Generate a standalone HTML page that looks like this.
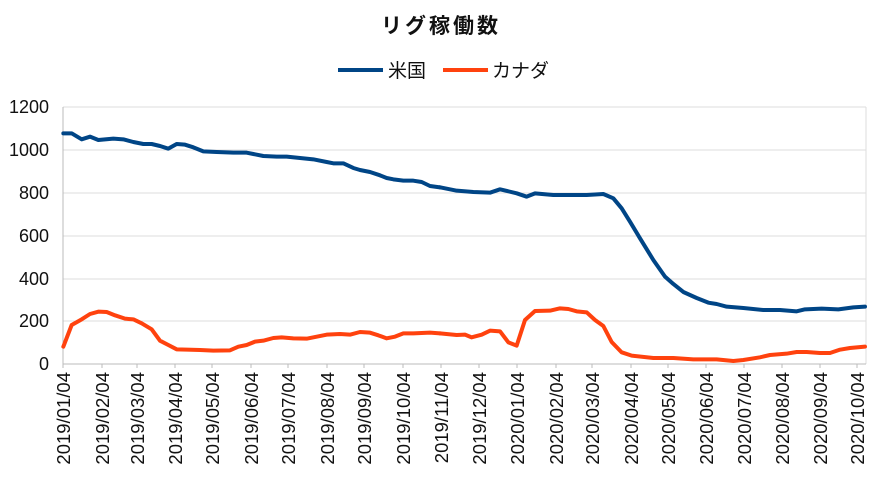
<!DOCTYPE html>
<html><head><meta charset="utf-8"><style>
body{margin:0;background:#fff;}
svg{display:block;font-family:"Liberation Sans","Noto Sans CJK JP",sans-serif;}
</style></head><body>
<svg width="889" height="478" viewBox="0 0 889 478" xmlns="http://www.w3.org/2000/svg">
<text x="441" y="33" font-size="21" font-weight="bold" text-anchor="middle" letter-spacing="3" fill="#111">リグ稼働数</text>
<line x1="338" y1="70" x2="383" y2="70" stroke="#004586" stroke-width="4"/>
<text x="388" y="77" font-size="19" fill="#111">米国</text>
<line x1="443" y1="70" x2="488" y2="70" stroke="#ff420e" stroke-width="4"/>
<text x="492" y="77" font-size="19" fill="#111">カナダ</text>
<g stroke="#ddd" stroke-width="1">
<line x1="63" y1="107" x2="866" y2="107"/><line x1="63" y1="150" x2="866" y2="150"/>
<line x1="63" y1="193" x2="866" y2="193"/><line x1="63" y1="236" x2="866" y2="236"/>
<line x1="63" y1="279" x2="866" y2="279"/><line x1="63" y1="321" x2="866" y2="321"/>
<line x1="866" y1="107" x2="866" y2="364"/>
</g>
<g stroke="#bbb" stroke-width="1">
<line x1="63" y1="107" x2="63" y2="368"/><line x1="63" y1="364" x2="866" y2="364"/>
<line x1="102" y1="364" x2="102" y2="368"/><line x1="137" y1="364" x2="137" y2="368"/>
<line x1="175" y1="364" x2="175" y2="368"/><line x1="212" y1="364" x2="212" y2="368"/>
<line x1="251" y1="364" x2="251" y2="368"/><line x1="288" y1="364" x2="288" y2="368"/>
<line x1="327" y1="364" x2="327" y2="368"/><line x1="364" y1="364" x2="364" y2="368"/>
<line x1="403" y1="364" x2="403" y2="368"/><line x1="441" y1="364" x2="441" y2="368"/>
<line x1="479" y1="364" x2="479" y2="368"/><line x1="517" y1="364" x2="517" y2="368"/>
<line x1="556" y1="364" x2="556" y2="368"/><line x1="592" y1="364" x2="592" y2="368"/>
<line x1="631" y1="364" x2="631" y2="368"/><line x1="668" y1="364" x2="668" y2="368"/>
<line x1="706" y1="364" x2="706" y2="368"/><line x1="744" y1="364" x2="744" y2="368"/>
<line x1="782" y1="364" x2="782" y2="368"/><line x1="820" y1="364" x2="820" y2="368"/>
<line x1="857" y1="364" x2="857" y2="368"/>
</g>
<g font-size="18" fill="#111" text-anchor="end">
<text x="49" y="113">1200</text><text x="49" y="156">1000</text><text x="49" y="199">800</text>
<text x="49" y="242">600</text><text x="49" y="285">400</text><text x="49" y="327">200</text>
<text x="49" y="370">0</text>
</g>
<g font-size="18.5" fill="#111" text-anchor="end">
<text transform="translate(70,372) rotate(-90)">2019/01/04</text>
<text transform="translate(109,372) rotate(-90)">2019/02/04</text>
<text transform="translate(144,372) rotate(-90)">2019/03/04</text>
<text transform="translate(182,372) rotate(-90)">2019/04/04</text>
<text transform="translate(219,372) rotate(-90)">2019/05/04</text>
<text transform="translate(258,372) rotate(-90)">2019/06/04</text>
<text transform="translate(295,372) rotate(-90)">2019/07/04</text>
<text transform="translate(334,372) rotate(-90)">2019/08/04</text>
<text transform="translate(371,372) rotate(-90)">2019/09/04</text>
<text transform="translate(410,372) rotate(-90)">2019/10/04</text>
<text transform="translate(448,372) rotate(-90)">2019/11/04</text>
<text transform="translate(486,372) rotate(-90)">2019/12/04</text>
<text transform="translate(524,372) rotate(-90)">2020/01/04</text>
<text transform="translate(563,372) rotate(-90)">2020/02/04</text>
<text transform="translate(599,372) rotate(-90)">2020/03/04</text>
<text transform="translate(638,372) rotate(-90)">2020/04/04</text>
<text transform="translate(675,372) rotate(-90)">2020/05/04</text>
<text transform="translate(713,372) rotate(-90)">2020/06/04</text>
<text transform="translate(751,372) rotate(-90)">2020/07/04</text>
<text transform="translate(789,372) rotate(-90)">2020/08/04</text>
<text transform="translate(827,372) rotate(-90)">2020/09/04</text>
<text transform="translate(864,372) rotate(-90)">2020/10/04</text>
</g>
<g fill="none" stroke-width="12" stroke-linejoin="round" stroke-linecap="round">
<g transform="translate(0,90) scale(0.33333)">
<polyline stroke="#004586" points="190,130 215,130 245,148 270,140 295,150 340,146 370,148 400,156 430,162 455,162 480,168 505,176 530,162 555,164 580,172 610,184 650,186 700,188 740,188 760,192 790,198 830,200 860,200 900,204 940,208 980,216 1000,220 1030,220 1060,234 1080,240 1110,246 1140,256 1160,264 1180,268 1210,272 1240,272 1265,276 1290,288 1320,292"/>
<polyline stroke="#ff420e" points="190,770 215,705 245,688 270,672 295,665 320,666 345,676 375,686 400,688 425,700 455,718 480,752 505,765 530,778 560,779 600,780 640,782 690,781 715,770 740,765 765,755 790,752 820,744 845,742 880,745 920,746 950,740 980,734 1020,732 1050,734 1080,726 1110,728 1135,736 1160,745 1185,740 1210,730 1240,730 1290,728 1320,730"/>
</g>
<g transform="translate(440,90) scale(0.33333)">
<polyline stroke="#004586" points="0,292 50,302 100,306 150,308 180,298 230,310 260,320 285,310 340,315 440,315 490,312 520,325 545,355 570,395 600,445 640,510 675,560 700,582 730,606 770,624 805,638 830,642 860,650 910,654 970,660 1020,660 1070,664 1095,658 1145,656 1195,658 1240,652 1275,650"/>
<polyline stroke="#ff420e" points="0,730 50,735 75,734 95,742 125,734 150,722 180,724 205,757 230,767 255,690 285,663 330,662 360,655 385,657 410,664 440,667 465,690 490,708 515,756 545,787 575,797 640,804 700,804 760,808 830,808 880,813 910,810 960,802 990,795 1040,791 1070,786 1100,786 1140,789 1170,789 1200,779 1230,774 1275,770"/>
</g>
</g>
</svg>
</body></html>
